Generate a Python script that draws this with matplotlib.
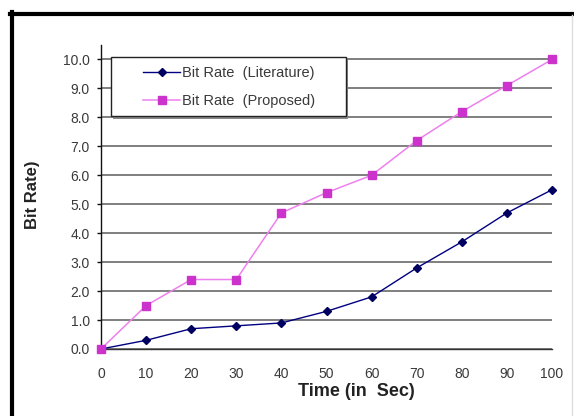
import matplotlib
matplotlib.use("Agg")
import matplotlib.pyplot as plt
from matplotlib.lines import Line2D
from matplotlib.patches import Rectangle

plt.rcParams['font.family'] = ['Liberation Sans', 'DejaVu Sans']

time_s = [0, 10, 20, 30, 40, 50, 60, 70, 80, 90, 100]
bitrate_literature = [0.0, 0.3, 0.7, 0.8, 0.9, 1.3, 1.8, 2.8, 3.7, 4.7, 5.5]
bitrate_proposed = [0.0, 1.5, 2.4, 2.4, 4.7, 5.4, 6.0, 7.2, 8.2, 9.1, 10.0]
y_ticks = [0, 1, 2, 3, 4, 5, 6, 7, 8, 9, 10]
x_ticks = [0, 10, 20, 30, 40, 50, 60, 70, 80, 90, 100]
label_lit = "Bit Rate  (Literature)"
label_prop = "Bit Rate  (Proposed)"

W, H = 574, 416
fig = plt.figure(figsize=(W / 100, H / 100), dpi=100)
fig.patch.set_facecolor('white')

ax = fig.add_axes([101 / W, 1 - 349 / H, (552 - 101) / W, (349 - 45) / H])
ax.set_xlim(0, 100)
ax.set_ylim(0, 10.5)

for y in y_ticks:
    ax.axhline(y, color='#6a6a6a', lw=1.2, zorder=1)

l1, = ax.plot(time_s, bitrate_literature, color='#000080', lw=1.0,
              marker='D', markersize=4, markerfacecolor='#000060',
              markeredgecolor='#000060', label=label_lit, zorder=3, clip_on=False)
l2, = ax.plot(time_s, bitrate_proposed, color='#ee80ee', lw=1.1,
              marker='s', markersize=5.5, markerfacecolor='#cc33cc',
              markeredgecolor='#cc33cc', label=label_prop, zorder=4, clip_on=False)

for s in ['top', 'right']:
    ax.spines[s].set_visible(False)
ax.spines['left'].set_color('#111111')
ax.spines['left'].set_linewidth(1.0)
ax.spines['bottom'].set_color('#333333')
ax.spines['bottom'].set_linewidth(1.0)

ax.set_yticks(y_ticks)
ax.set_yticklabels([f"{v:.1f}" for v in y_ticks])
ax.set_xticks(x_ticks)
ax.set_xticklabels([str(v) for v in x_ticks])
ax.tick_params(axis='y', length=3, width=1, pad=5, labelsize=10, labelcolor='#3a3a3a', color='#111111')
ax.tick_params(axis='x', length=0, pad=13, labelsize=10, labelcolor='#3a3a3a')

fig.text(356 / W, 1 - 392 / H, "Time (in  Sec)", fontsize=13, fontweight='bold',
         ha='center', va='center', color='#222222')
fig.text(32 / W, 1 - 195 / H, "Bit Rate)", rotation=90, fontsize=12, fontweight='bold',
         ha='center', va='center', color='#222222')

# legend frame with shadow
bx0, bx1 = (111 - 101) / 451, (346 - 101) / 451
by1, by0 = 1 - (57 - 45) / 304, 1 - (116 - 45) / 304
shadow = Rectangle((bx0 + 0.004, by0 - 0.010), bx1 - bx0, by1 - by0, transform=ax.transAxes,
                   facecolor='#888888', edgecolor='none', zorder=5, clip_on=False)
frame = Rectangle((bx0, by0), bx1 - bx0, by1 - by0, transform=ax.transAxes,
                  facecolor='white', edgecolor='#222222', lw=1.0, zorder=6, clip_on=False)
ax.add_patch(shadow)
ax.add_patch(frame)
leg = ax.legend(handles=[l1, l2], loc='upper left',
                bbox_to_anchor=((143 - 101) / 451, 1 - (66 - 45) / 304),
                frameon=False, fontsize=10.5, borderpad=0, borderaxespad=0,
                handlelength=2.55, handletextpad=0.15, labelspacing=0.95)
leg.set_zorder(7)
for t in leg.get_texts():
    t.set_color('#3a3a3a')

# outer border
fig.add_artist(Line2D([11.5 / W, 11.5 / W], [0, 1 - 12 / H], color='black', lw=3, transform=fig.transFigure))
fig.add_artist(Line2D([10 / W, 1], [1 - 13.5 / H, 1 - 13.5 / H], color='black', lw=3, transform=fig.transFigure))
fig.add_artist(Line2D([572 / W, 572 / W], [0, 1 - 15 / H], color='#dddddd', lw=1, transform=fig.transFigure))

fig.savefig("out.png", dpi=100, facecolor='white')
